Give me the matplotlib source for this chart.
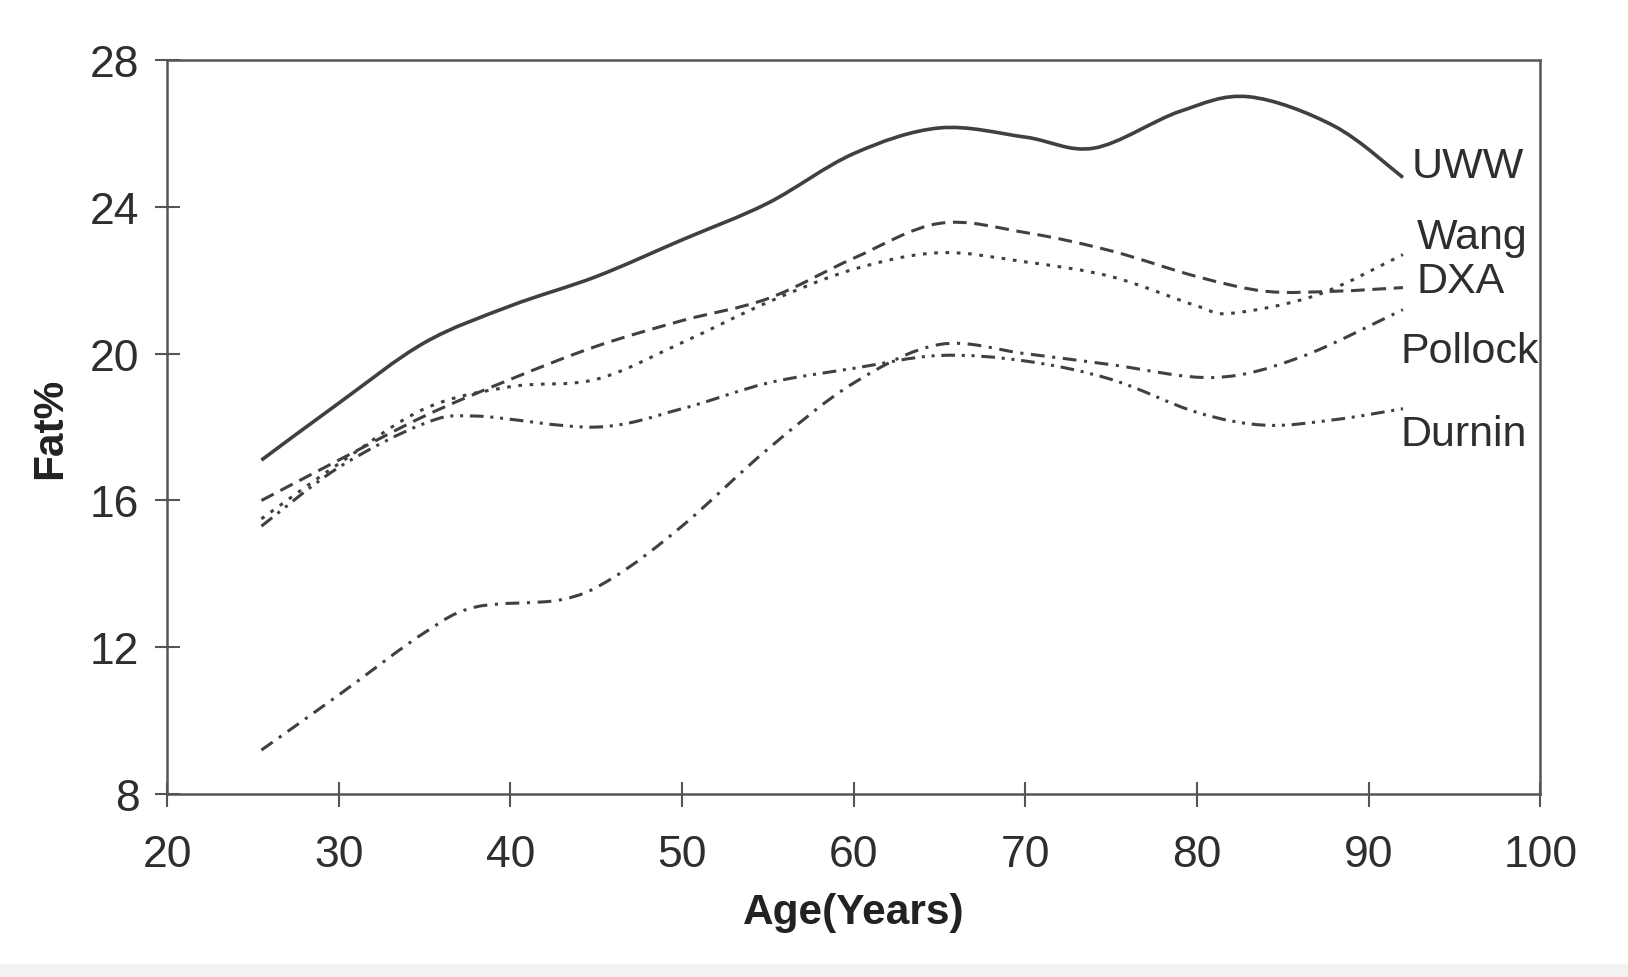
import numpy as np
import matplotlib.pyplot as plt
from matplotlib.path import Path
from matplotlib.patches import PathPatch

# values (age in years, body fat %)
uww_age = [25.5, 30, 35, 40, 45, 50, 55, 60, 65, 70, 74, 79, 83, 88, 92]
uww_fat = [17.1, 18.65, 20.3, 21.3, 22.1, 23.1, 24.1, 25.45, 26.15, 25.9, 25.6, 26.6, 27.0, 26.2, 24.8]

dxa_age = [25.5, 30, 35, 40, 45, 50, 55, 60, 65, 70, 75, 80, 84, 88, 92]
dxa_fat = [16.0, 17.1, 18.3, 19.3, 20.2, 20.9, 21.5, 22.6, 23.55, 23.3, 22.8, 22.1, 21.7, 21.7, 21.8]

wang_age = [25.5, 30, 35, 40, 45, 50, 55, 60, 65, 70, 75, 80, 82, 87, 92]
wang_fat = [15.5, 17.0, 18.5, 19.1, 19.3, 20.3, 21.4, 22.3, 22.75, 22.5, 22.1, 21.3, 21.1, 21.6, 22.7]

durnin_age = [25.5, 30, 35, 38, 45, 50, 55, 60, 65, 70, 75, 80, 84, 88, 92]
durnin_fat = [15.3, 16.9, 18.1, 18.3, 18.0, 18.5, 19.2, 19.6, 19.95, 19.8, 19.3, 18.4, 18.05, 18.2, 18.5]

pollock_age = [25.5, 30, 35, 38, 43, 46, 50, 55, 60, 65, 70, 75, 81, 86, 92]
pollock_fat = [9.2, 10.7, 12.4, 13.1, 13.3, 13.9, 15.3, 17.4, 19.2, 20.25, 20.0, 19.7, 19.35, 19.9, 21.2]

x_ticks = [20, 30, 40, 50, 60, 70, 80, 90, 100]
y_ticks = [8, 12, 16, 20, 24, 28]


def smooth_path(xs, ys):
    # Catmull-Rom style bezier through the points (like a spreadsheet "smoothed line")
    pts = np.column_stack([xs, ys]).astype(float)
    n = len(pts)
    verts = [pts[0]]
    codes = [Path.MOVETO]
    for i in range(n - 1):
        p0 = pts[i - 1] if i > 0 else pts[i]
        p1 = pts[i]
        p2 = pts[i + 1]
        p3 = pts[i + 2] if i + 2 < n else pts[i + 1]
        c1 = p1 + (p2 - p0) / 6.0
        c2 = p2 - (p3 - p1) / 6.0
        verts += [c1, c2, p2]
        codes += [Path.CURVE4] * 3
    return Path(verts, codes)


def main():
    plt.rcParams['font.family'] = ['Liberation Sans', 'DejaVu Sans']
    fig = plt.figure(figsize=(16.28, 9.78), dpi=100)
    ax = fig.add_axes([0.1026, 0.187, 0.8435, 0.7506])

    line_col = '#404040'
    series = [
        (uww_age, uww_fat, '-', 2.6),
        (dxa_age, dxa_fat, (0, (4.5, 2.5)), 2.2),
        (wang_age, wang_fat, (0, (1.2, 2.5)), 2.2),
        (durnin_age, durnin_fat, (0, (4.5, 2.2, 1.0, 2.2, 1.0, 2.2)), 2.2),
        (pollock_age, pollock_fat, (0, (4.5, 2.5, 1.0, 2.5)), 2.2),
    ]
    for xs, ys, ls, lw in series:
        patch = PathPatch(smooth_path(xs, ys), facecolor='none',
                          edgecolor=line_col, linestyle=ls, linewidth=lw)
        ax.add_patch(patch)

    # series names at the line ends
    txt_col = '#2e2e2e'
    ax.text(92.5, 25.1, 'UWW', fontsize=31, color=txt_col, va='center')
    ax.text(92.8, 23.18, 'Wang', fontsize=31, color=txt_col, va='center')
    ax.text(92.8, 21.98, 'DXA', fontsize=31, color=txt_col, va='center')
    ax.text(91.85, 20.07, 'Pollock', fontsize=31, color=txt_col, va='center')
    ax.text(91.85, 17.81, 'Durnin', fontsize=31, color=txt_col, va='center')

    ax.set_xlim(20, 100)
    ax.set_ylim(8, 28)
    ax.set_xticks(x_ticks)
    ax.set_yticks(y_ticks)
    for sp in ax.spines.values():
        sp.set_color('#555555')
        sp.set_linewidth(1.8)
    ax.tick_params(direction='inout', length=18, width=1.5, color='#555555',
                   labelsize=32, labelcolor=txt_col)
    ax.tick_params(axis='x', pad=20)
    ax.tick_params(axis='y', pad=11)

    ax.set_xlabel('Age(Years)', fontsize=30.5, fontweight='bold', color='#222222', labelpad=12)
    ax.set_ylabel('Fat%', fontsize=30.5, fontweight='bold', color='#222222', labelpad=14)

    # faint grey strip at the bottom of the picture
    fig.patches.append(plt.Rectangle((0, 0), 1, 0.013, transform=fig.transFigure,
                                     color='#f2f2f2', zorder=0))

    fig.savefig('out.png', dpi=100)


if __name__ == "__main__":
    main()
